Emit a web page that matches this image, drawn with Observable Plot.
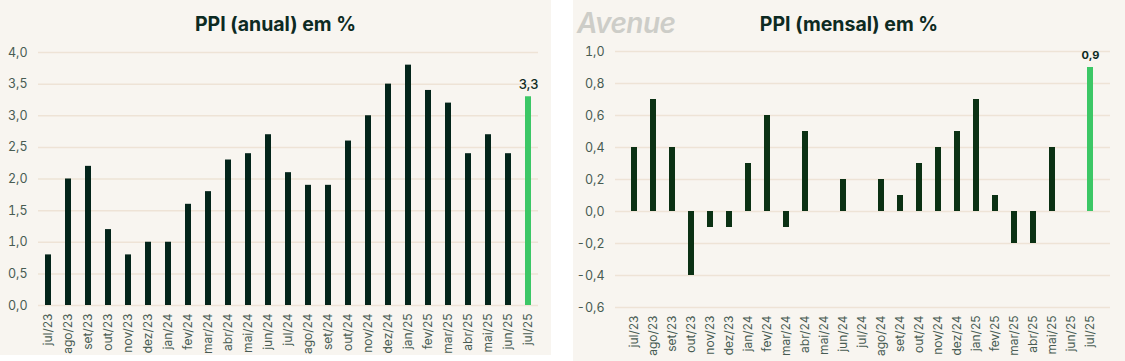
<!DOCTYPE html>
<html>
<head>
<meta charset="utf-8">
<script src="https://cdn.jsdelivr.net/npm/d3@7"></script>
<script src="https://cdn.jsdelivr.net/npm/@observablehq/plot@0.6"></script>
<style>
  html, body { margin: 0; padding: 0; background: #ffffff; }
  body { width: 1125px; height: 361px; position: relative; overflow: hidden; font-family: Inter, "Noto Sans", sans-serif; }
  .panel { position: absolute; top: 0; background: #f8f5f0; }
  .title { height: 40px; box-sizing: border-box; padding-top: 14px; text-align: center; font-weight: 700; font-size: 19.5px; line-height: 20px; color: #0d2a22; }
  .logo { position: absolute; left: 4px; top: 6px; font-size: 28px; font-style: italic; font-weight: 600; color: #cdcdc8; letter-spacing: -0.5px; }
  svg { display: block; }
</style>
</head>
<body>
<div id="left" class="panel" style="left:0;width:551px;height:355px;"></div>
<div id="right" class="panel" style="left:573px;width:552px;height:361px;"></div>
<script>
const months = ["jul/23","ago/23","set/23","out/23","nov/23","dez/23","jan/24","fev/24","mar/24","abr/24","mai/24","jun/24","jul/24","ago/24","set/24","out/24","nov/24","dez/24","jan/25","fev/25","mar/25","abr/25","mai/25","jun/25","jul/25"];
const anual = [0.8,2.0,2.2,1.2,0.8,1.0,1.0,1.6,1.8,2.3,2.4,2.7,2.1,1.9,1.9,2.6,3.0,3.5,3.8,3.4,3.2,2.4,2.7,2.4,3.3];
const mensal = [0.4,0.7,0.4,-0.4,-0.1,-0.1,0.3,0.6,-0.1,0.5,0,0.2,0,0.2,0.1,0.3,0.4,0.5,0.7,0.1,-0.2,-0.2,0.4,0,0.9];
const ticksAnual = [0,0.5,1,1.5,2,2.5,3,3.5,4];
const ticksMensal = [-0.6,-0.4,-0.2,0,0.2,0.4,0.6,0.8,1.0];
const titleAnual = "PPI (anual) em %";
const titleMensal = "PPI (mensal) em %";

const fmt = d => d.toFixed(1).replace(".", ",");
const gridColor = "#eee3d6";
const tickColor = "#485c53";
const highlight = "#3cc766";

function makeChart(values, ticks, domain, opts) {
  const data = months.map((m, i) => ({m, v: values[i], last: i === months.length - 1}));
  const lastRow = data[data.length - 1];
  return Plot.plot({
    width: opts.width,
    height: opts.height,
    marginLeft: opts.ml,
    marginRight: opts.mr,
    marginTop: opts.mt,
    marginBottom: opts.mb,
    style: {background: "transparent", fontFamily: "Inter, 'Noto Sans', sans-serif"},
    x: {domain: months, paddingInner: 0.675, paddingOuter: 0.3375},
    y: {domain, ticks},
    marks: [
      Plot.ruleY(ticks, {stroke: gridColor, strokeWidth: 1.5}),
      Plot.axisY({ticks, tickFormat: fmt, tickSize: 0, tickPadding: 11, fontSize: 12.5, fill: tickColor, label: null}),
      Plot.axisX({tickSize: 0, tickRotate: -90, tickPadding: 8, fontSize: 12, fill: tickColor, label: null}),
      Plot.barY(data, {x: "m", y1: 0, y2: "v", fill: d => d.last ? highlight : opts.barColor}),
      Plot.text([lastRow], {x: "m", y: "v", text: d => fmt(d.v), dy: -12, fontSize: opts.labelSize, fontWeight: opts.labelWeight, fill: "#0d2a22"})
    ]
  });
}

const left = document.getElementById("left");
const lt = document.createElement("div");
lt.className = "title";
lt.textContent = titleAnual;
left.appendChild(lt);
left.appendChild(makeChart(anual, ticksAnual, [0, 4], {width: 551, height: 315, ml: 38, mr: 13, mt: 12, mb: 50, barColor: "#03241a", labelSize: 13, labelWeight: 500}));

const right = document.getElementById("right");
const logo = document.createElement("div");
logo.className = "logo";
logo.textContent = "Avenue";
right.appendChild(logo);
const rt = document.createElement("div");
rt.className = "title";
rt.textContent = titleMensal;
right.appendChild(rt);
right.appendChild(makeChart(mensal, ticksMensal, [-0.6, 1.0], {width: 552, height: 321, ml: 42, mr: 15, mt: 11, mb: 54, barColor: "#0b3114", labelSize: 11, labelWeight: 700}));
</script>
</body>
</html>
